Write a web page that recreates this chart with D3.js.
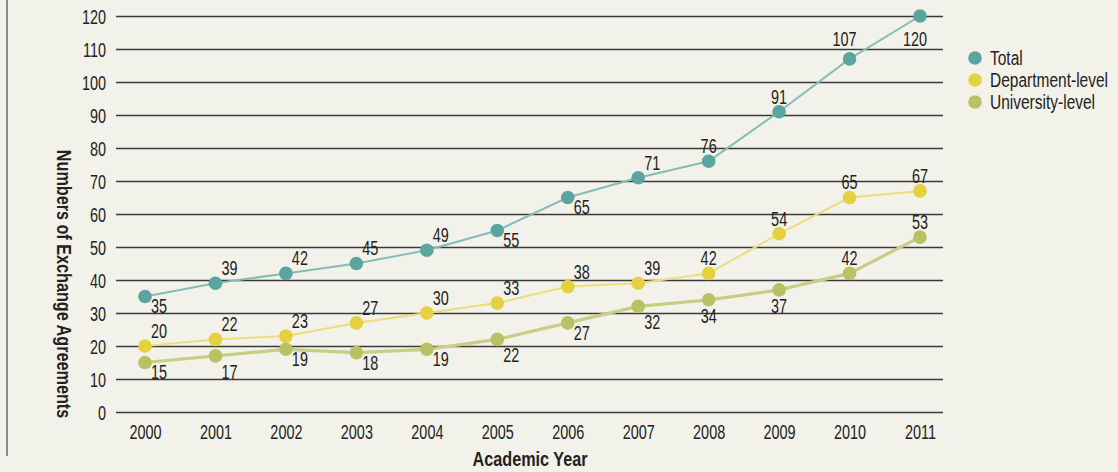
<!DOCTYPE html>
<html><head><meta charset="utf-8">
<script src="https://cdn.jsdelivr.net/npm/d3@7"></script>
<style>
html,body{margin:0;padding:0;background:#f3f2ea;}
svg{display:block;font-family:"Liberation Sans",Arial,sans-serif;}
</style></head>
<body>
<svg id="chart" width="1118" height="472"></svg>
<script>
const years = ["2000","2001","2002","2003","2004","2005","2006","2007","2008","2009","2010","2011"];
const total = [35,39,42,45,49,55,65,71,76,91,107,120];
const dept = [20,22,23,27,30,33,38,39,42,54,65,67];
const univ = [15,17,19,18,19,22,27,32,34,37,42,53];
// label placement: a = above, b = below, c = further below, A = high above, B = far below
const totalPlace = ["b","a","a","a","a","b","b","a","a","a","A","B"];
const deptPlace  = ["a","a","a","a","a","a","a","a","a","a","a","a"];
const univPlace  = ["b","c","b","b","b","c","b","c","c","c","a","a"];
const yTicks = [0,10,20,30,40,50,60,70,80,90,100,110,120];
const seriesNames = ["Total","Department-level","University-level"];

const FONT = "Liberation Sans, Arial, sans-serif";
function condense(sel, k, origin){
  sel.style("transform-box","fill-box")
     .style("transform-origin", origin + " center")
     .style("transform","scaleX(" + k + ")");
}

const svg = d3.select("#chart");
const x = d3.scalePoint().domain(years).range([145, 920]);
const y = d3.scaleLinear().domain([0,120]).range([412, 16]);

// left frame line
svg.append("line").attr("x1",7).attr("x2",7).attr("y1",0).attr("y2",456)
  .attr("stroke","#8a8a86").attr("stroke-width",2);

// grid + y axis
const yAxis = d3.axisLeft(y).tickValues(yTicks).tickSize(-827).tickPadding(10);
const gy = svg.append("g").attr("transform","translate(116,0)").call(yAxis);
gy.select(".domain").remove();
gy.selectAll(".tick line").attr("stroke","#3a3a38").attr("stroke-width",1.3);
gy.selectAll(".tick text").attr("font-size",19.5).attr("fill","#222").attr("font-family",FONT)
  .attr("dy","0.36em")
  .call(condense,0.74,"right");

const xAxis = d3.axisBottom(x).tickSize(0).tickPadding(7);
const gx = svg.append("g").attr("transform","translate(0,418)").call(xAxis);
gx.select(".domain").remove();
gx.selectAll(".tick text").attr("font-size",19.5).attr("fill","#222").attr("font-family",FONT)
  .call(condense,0.74,"center");

svg.append("text").attr("x",530).attr("y",466).attr("text-anchor","middle")
  .attr("font-size",20).attr("font-weight","bold").attr("fill","#222").text("Academic Year")
  .call(condense,0.81,"center");
const yTitle = svg.append("g").attr("transform","translate(57,284) rotate(90)");
yTitle.append("text").attr("x",0).attr("y",0).attr("text-anchor","middle")
  .attr("font-size",20).attr("font-weight","bold").attr("fill","#222").text("Numbers of Exchange Agreements")
  .call(condense,0.81,"center");

const series = [
  {name:seriesNames[0], vals:total, place:totalPlace, line:"#84bcb8", lw:2, dot:"#5ba5a1"},
  {name:seriesNames[1], vals:dept,  place:deptPlace,  line:"#ecdd7c", lw:2, dot:"#e5d03f"},
  {name:seriesNames[2], vals:univ,  place:univPlace,  line:"#c7cf85", lw:3.2, dot:"#b7c264"}
];
const lineGen = d3.line().x((d,i)=>x(years[i])).y(d=>y(d));

series.slice().reverse().forEach(s=>{
  svg.append("path").attr("d",lineGen(s.vals)).attr("fill","none")
    .attr("stroke",s.line).attr("stroke-width",s.lw);
});
series.slice().reverse().forEach(s=>{
  svg.selectAll(null).data(s.vals).enter().append("circle")
    .attr("cx",(d,i)=>x(years[i])).attr("cy",d=>y(d)).attr("r",6.8).attr("fill",s.dot);
});
const dyOf = {a:-8, b:17, c:23, A:-13, B:30};
series.forEach(s=>{
  svg.selectAll(null).data(s.vals).enter().append("text")
    .attr("x",(d,i)=>x(years[i]) + (i < 8 ? 14 : (s.place[i]==="A"||s.place[i]==="B") ? -5 : 0))
    .attr("y",(d,i)=>y(d) + dyOf[s.place[i]])
    .attr("text-anchor","middle").attr("font-size",19.5).attr("fill","#222")
    .text(d=>d)
    .call(condense,0.74,"center");
});

// legend
const lg = svg.append("g");
series.forEach((s,i)=>{
  lg.append("circle").attr("cx",975).attr("cy",58+i*22).attr("r",6.8).attr("fill",s.dot);
  lg.append("text").attr("x",990).attr("y",65+i*22).attr("font-size",19.5).attr("fill","#222").text(s.name)
    .call(condense,0.795,"left");
});
</script>
</body></html>
